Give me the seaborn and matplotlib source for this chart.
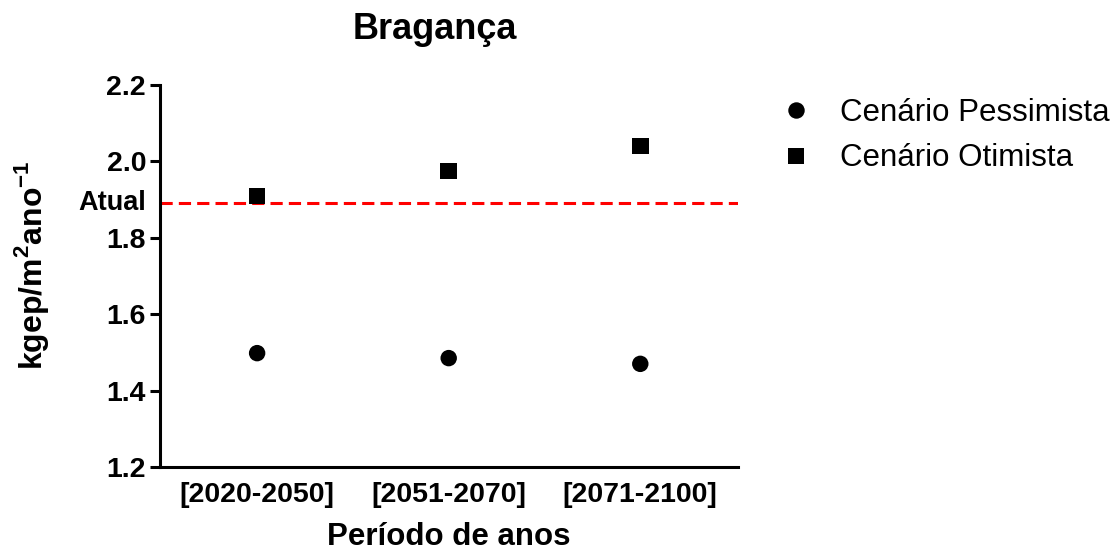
import matplotlib
matplotlib.use("Agg")
import matplotlib.pyplot as plt
import seaborn as sns
import pandas as pd
from matplotlib.transforms import blended_transform_factory

periods = ["[2020-2050]", "[2051-2070]", "[2071-2100]"]
pessimista = [1.498, 1.485, 1.470]
otimista = [1.909, 1.975, 2.040]
atual = 1.891
series_names = ["Cenário Pessimista", "Cenário Otimista"]
yticks = [1.2, 1.4, 1.6, 1.8, 2.0, 2.2]

df = pd.DataFrame({
    "periodo": periods * 2,
    "valor": pessimista + otimista,
    "cenario": [series_names[0]] * 3 + [series_names[1]] * 3,
})
df["x"] = [periods.index(p) for p in df["periodo"]]

sns.set_style("ticks")
plt.rcParams["font.family"] = ["Liberation Sans", "DejaVu Sans"]
plt.rcParams["mathtext.fontset"] = "custom"
plt.rcParams["mathtext.rm"] = "Liberation Sans"
plt.rcParams["mathtext.bf"] = "Liberation Sans:bold"
for key in ["text.color", "axes.labelcolor", "xtick.color", "ytick.color", "axes.edgecolor"]:
    plt.rcParams[key] = "black"

fig = plt.figure(figsize=(11.18, 5.58), dpi=100)
ax = fig.add_axes([0.1431, 0.163, 0.517, 0.685])

sns.scatterplot(data=df, x="x", y="valor", style="cenario",
                markers={series_names[0]: "o", series_names[1]: "s"},
                color="black", s=140, edgecolor="black", linewidth=0,
                ax=ax, legend=True, zorder=3)

ax.axhline(atual, color="#ff0000", linestyle=(0, (4, 2)), linewidth=2.2, zorder=2)
trans = blended_transform_factory(ax.transAxes, ax.transData)
ax.text(-0.024, atual, "Atual", transform=trans, ha="right", va="center",
        fontsize=19.5, fontweight="bold")

ax.set_xlim(-0.507, 2.51)
ax.set_ylim(1.2, 2.2)
ax.set_xticks(range(len(periods)))
ax.set_xticklabels(periods, fontsize=20.5, fontweight="bold")
ax.set_yticks(yticks)
ax.set_yticklabels([f"{v:.1f}" for v in yticks], fontsize=20.5, fontweight="bold")
ax.tick_params(axis="x", length=0, pad=11)
ax.tick_params(axis="y", length=7, width=2.2, pad=3)
for side in ["top", "right"]:
    ax.spines[side].set_visible(False)
for side in ["left", "bottom"]:
    ax.spines[side].set_linewidth(2.2)

ax.set_xlabel("Período de anos", fontsize=22.5, fontweight="bold", labelpad=10)
ax.set_ylabel("kgep/m$^{\\mathbf{2}}$ano$^{\\mathbf{-1}}$", fontsize=23, fontweight="bold")
ax.yaxis.set_label_coords(-0.189, 0.527)
ax.set_title("Bragança", fontsize=26, fontweight="bold", x=0.476, pad=33)

handles, labels = ax.get_legend_handles_labels()
ax.get_legend().remove()
fig.legend(handles, labels, loc="upper left", bbox_to_anchor=(0.673, 0.875),
           frameon=False, fontsize=22.5, handlelength=1.0, handletextpad=0.9,
           labelspacing=0.5, markerscale=1.0)

fig.savefig("out.png", dpi=100)
